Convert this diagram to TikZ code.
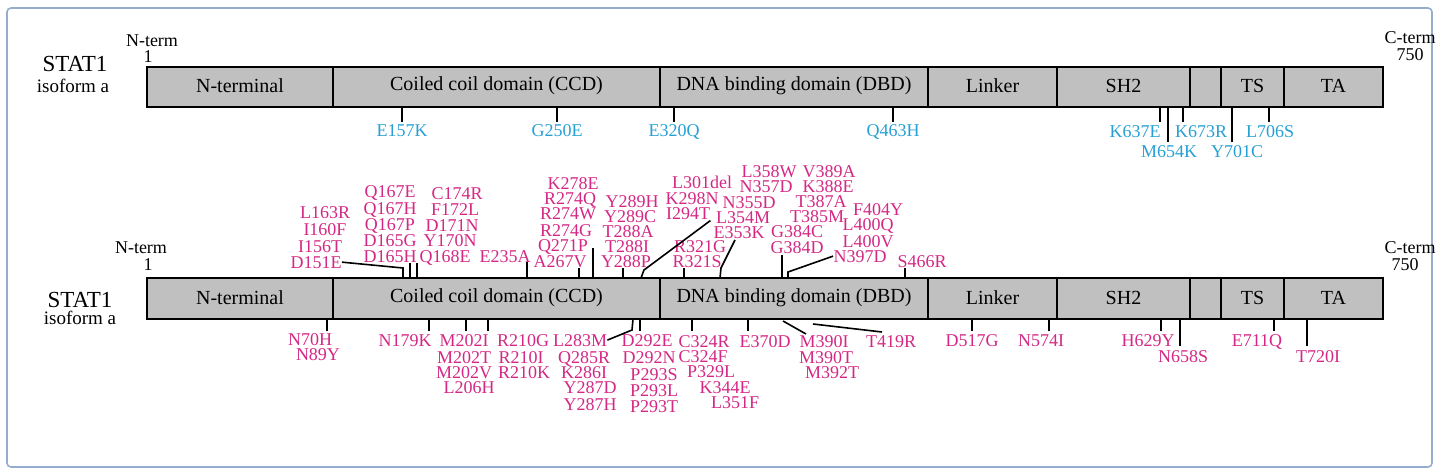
\documentclass[tikz,border=0pt]{standalone}
\usepackage{fontspec}
\setmainfont{Liberation Serif}
\definecolor{mutcyan}{RGB}{38,160,212}
\definecolor{mutpink}{RGB}{212,40,132}
\definecolor{domgray}{RGB}{192,192,192}
\definecolor{framecol}{RGB}{150,172,204}
\tikzset{
  dombox/.style={draw=black,fill=domgray,line width=0.8pt},
  domtext/.style={font=\fontsize{10}{10}\selectfont},
  cyanmut/.style={text=mutcyan,anchor=base,inner sep=0pt,font=\fontsize{9}{9}\selectfont},
  pinkmut/.style={text=mutpink,anchor=base,inner sep=0pt,font=\fontsize{9}{9}\selectfont},
  tick/.style={line width=0.8pt},
}
% one protein bar: #1 = top y, #2 = bottom y
\newcommand\statbar[2]{%
  \foreach \a/\b/\t in {147/333/N-terminal,333/660/Coiled coil domain (CCD),660/928/DNA binding domain (DBD),928/1057/Linker,1057/1190/SH2,1190/1221/,1221/1284/TS,1284/1383/TA}
    \draw[dombox] (\a,#1) rectangle node[domtext,yshift=0.5pt]{\t} (\b,#2);}
\begin{document}
\begin{tikzpicture}[x=0.5pt,y=-0.5pt]
  \useasboundingbox (0,0) rectangle (1440,476);
  \draw[framecol,line width=0.8pt,rounded corners=2pt] (7,8) rectangle (1432,467);

  % top bar
  \statbar{67}{107}
  \node[anchor=base,font=\fontsize{11.5}{11}\selectfont] (name1) at (75,72) {STAT1};
  \node[anchor=base,font=\fontsize{9.5}{9}\selectfont] (iso1) at (73,93) {isoform a};
  \node[anchor=base,font=\fontsize{9}{9}\selectfont] (nt1) at (152,47) {N-term};
  \node[anchor=base,font=\fontsize{9}{9}\selectfont] (one1) at (148,63) {1};
  \node[anchor=base,font=\fontsize{9}{9}\selectfont] (ct1) at (1410,44) {C-term};
  \node[anchor=base,font=\fontsize{9}{9}\selectfont] (end1) at (1410,61) {750};

  \foreach \x in {402,557,674,893,1160,1183,1269} \draw[tick] (\x,107) -- (\x,122);
  \foreach \x in {1168,1232} \draw[tick] (\x,107) -- (\x,142);
  \foreach \x/\y/\t in {402/137/E157K,557/137/G250E,674/137/E320Q,893/137/Q463H,1135/138/K637E,
      1201/138/K673R,1270/138/L706S,1169/157/M654K,1237/157/Y701C}
    \node[cyanmut] (\t) at (\x,\y) {\t};

  % bottom bar
  \statbar{278}{319}
  \node[anchor=base,font=\fontsize{11.5}{11}\selectfont] (name2) at (80,307) {STAT1};
  \node[anchor=base,font=\fontsize{9.5}{9}\selectfont] (iso2) at (80,324) {isoform a};
  \node[anchor=base,font=\fontsize{9}{9}\selectfont] (nt2) at (141,253) {N-term};
  \node[anchor=base,font=\fontsize{9}{9}\selectfont] (one2) at (148,270) {1};
  \node[anchor=base,font=\fontsize{9}{9}\selectfont] (ct2) at (1410,253) {C-term};
  \node[anchor=base,font=\fontsize{9}{9}\selectfont] (end2) at (1405,270) {750};

  % mutations above
  \foreach \x/\y/\t in {325/218/L163R,325/235/I160F,320/252/I156T,316/268/D151E,
      390/198/Q167E,390/214/Q167H,390/230/Q167P,390/246/D165G,390/262/D165H,
      457/199/C174R,455/215/F172L,452/231/D171N,450/246/Y170N,445/262/Q168E,505/262/E235A,
      573/189/K278E,570/204/R274Q,568/220/R274W,566/236/R274G,563/251/Q271P,560/267/A267V,
      632/207/Y289H,630/222/Y289C,628/237/T288A,627/252/T288I,626/267/Y288P,
      702/188/L301del,692/204/K298N,688/220/I294T,700/252/R321G,697/267/R321S,
      769/177/L358W,766/192/N357D,749/208/N355D,743/223/L354M,739/238/E353K,
      829/177/V389A,828/192/K388E,821/207/T387A,817/222/T385M,797/237/G384C,797/253/G384D,
      878/215/F404Y,868/230/L400Q,868/247/L400V,860/262/N397D,922/267/S466R}
    \node[pinkmut] (\t) at (\x,\y) {\t};
  \foreach \x/\y in {410/263,417/263,527/262,579/268,593/248,623/268,684/268,782/255,905/268}
    \draw[tick] (\x,278) -- (\x,\y);
  \draw[tick] (D151E.east) -- (403,268) -- (403,278);
  \draw[tick] (641,278) -- (644,270) -- (I294T.south east);
  \draw[tick] (720,278) -- (721,268) -- (735,240);
  \draw[tick] (788,278) -- (788,272) -- (N397D.west);

  % mutations below
  \foreach \x/\y/\t in {310/345/N70H,318/360/N89Y,405/346/N179K,
      464/346/M202I,464/363/M202T,464/378/M202V,469/393/L206H,
      523/346/R210G,521/363/R210I,524/378/R210K,
      580/346/L283M,584/363/Q285R,584/378/K286I,590/393/Y287D,590/410/Y287H,
      647/346/D292E,649/363/D292N,654/380/P293S,654/396/P293L,654/412/P293T,
      704/347/C324R,703/362/C324F,711/377/P329L,725/393/K344E,735/408/L351F,
      765/347/E370D,824/347/M390I,826/363/M390T,832/378/M392T,891/347/T419R,
      972/346/D517G,1041/346/N574I,1148/346/H629Y,1183/362/N658S,1257/346/E711Q,1318/362/T720I}
    \node[pinkmut] (\t) at (\x,\y) {\t};
  \foreach \x in {327,429,466,488,640,692,748,972,1049,1161,1274} \draw[tick] (\x,319) -- (\x,331);
  \foreach \x in {1180,1307} \draw[tick] (\x,319) -- (\x,346);
  \draw[tick] (L283M.east) -- (632,330) -- (633,319);
  \draw[tick] (783,321) -- (806,334);
  \draw[tick] (813,324) -- (882,332);
\end{tikzpicture}
\end{document}
